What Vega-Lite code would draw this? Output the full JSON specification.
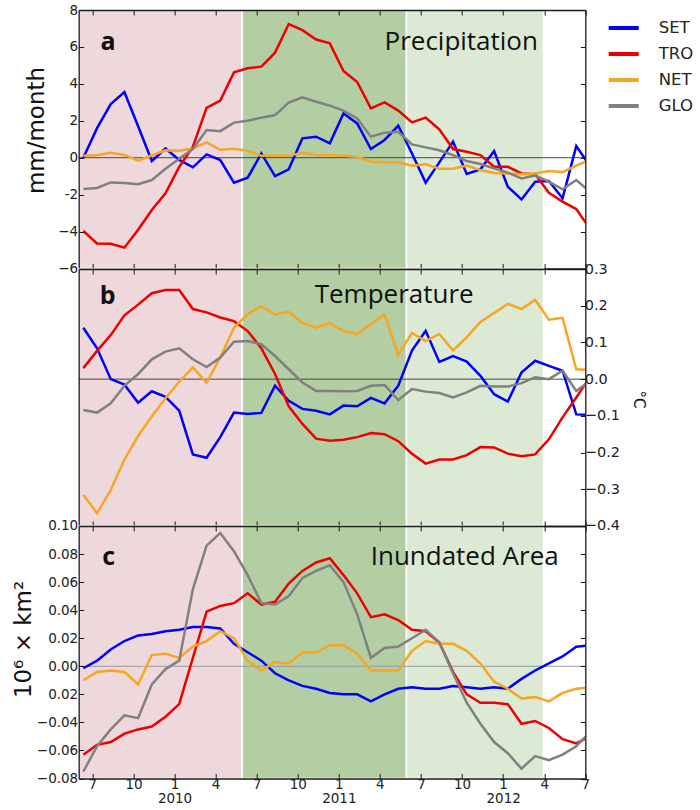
{
  "$schema": "https://vega.github.io/schema/vega-lite/v6.json",
  "autosize": {"type": "none"},
  "padding": {"left": 78.7, "top": 10, "right": 621.3, "bottom": 800},
  "bounds": "flush",
  "spacing": 0,
  "config": {
    "view": {"stroke": null},
    "axis": {"grid": false, "domain": true, "domainColor": "#1a1a1a", "domainWidth": 1.3, "tickSize": -5, "tickColor": "#1a1a1a", "tickWidth": 1,
      "labelFont": "DejaVu Sans", "labelFontSize": 13.5, "labelColor": "#222",
      "titleFont": "DejaVu Sans", "titleFontWeight": "normal", "titleColor": "#111"}
  },
  "datasets": {
    "bands": [
      {"start": -0.34, "end": 11.6, "phase": "p1"},
      {"start": 11.6, "end": 23.6, "phase": "p2"},
      {"start": 23.6, "end": 33.6, "phase": "p3"}
    ],
    "prec": [
      {"k":0,"SET":0,"TRO":-3.97,"NET":0.1,"GLO":-1.7},
      {"k":1,"SET":1.6,"TRO":-4.64,"NET":0.13,"GLO":-1.64},
      {"k":2,"SET":2.9,"TRO":-4.66,"NET":0.27,"GLO":-1.34},
      {"k":3,"SET":3.55,"TRO":-4.87,"NET":0.15,"GLO":-1.37},
      {"k":4,"SET":1.7,"TRO":-3.9,"NET":-0.16,"GLO":-1.44},
      {"k":5,"SET":-0.18,"TRO":-2.83,"NET":0.12,"GLO":-1.21},
      {"k":6,"SET":0.5,"TRO":-1.93,"NET":0.4,"GLO":-0.6},
      {"k":7,"SET":-0.12,"TRO":-0.5,"NET":0.38,"GLO":-0.05},
      {"k":8,"SET":-0.52,"TRO":0.6,"NET":0.5,"GLO":0.47},
      {"k":9,"SET":0.18,"TRO":2.7,"NET":0.83,"GLO":1.5},
      {"k":10,"SET":-0.13,"TRO":3.09,"NET":0.43,"GLO":1.44},
      {"k":11,"SET":-1.35,"TRO":4.62,"NET":0.49,"GLO":1.9},
      {"k":12,"SET":-1.08,"TRO":4.84,"NET":0.38,"GLO":2.0},
      {"k":13,"SET":0.23,"TRO":4.93,"NET":0.1,"GLO":2.17},
      {"k":14,"SET":-1.0,"TRO":5.69,"NET":0.1,"GLO":2.31},
      {"k":15,"SET":-0.63,"TRO":7.24,"NET":0.1,"GLO":2.98},
      {"k":16,"SET":1.05,"TRO":6.91,"NET":0.27,"GLO":3.27},
      {"k":17,"SET":1.14,"TRO":6.4,"NET":0.15,"GLO":3.03},
      {"k":18,"SET":0.78,"TRO":6.19,"NET":0.13,"GLO":2.82},
      {"k":19,"SET":2.4,"TRO":4.7,"NET":0.1,"GLO":2.55},
      {"k":20,"SET":1.86,"TRO":4.1,"NET":0.05,"GLO":2.13},
      {"k":21,"SET":0.47,"TRO":2.67,"NET":-0.2,"GLO":1.14},
      {"k":22,"SET":0.96,"TRO":3.0,"NET":-0.25,"GLO":1.35},
      {"k":23,"SET":1.73,"TRO":2.55,"NET":-0.25,"GLO":1.4},
      {"k":24,"SET":0.23,"TRO":1.91,"NET":-0.43,"GLO":0.72},
      {"k":25,"SET":-1.35,"TRO":2.17,"NET":-0.35,"GLO":0.56},
      {"k":26,"SET":-0.25,"TRO":1.53,"NET":-0.6,"GLO":0.4},
      {"k":27,"SET":0.87,"TRO":0.47,"NET":-0.6,"GLO":0.14},
      {"k":28,"SET":-0.88,"TRO":0.32,"NET":-0.43,"GLO":-0.18},
      {"k":29,"SET":-0.63,"TRO":0.14,"NET":-0.67,"GLO":-0.34},
      {"k":30,"SET":0.36,"TRO":-0.49,"NET":-0.83,"GLO":-0.58},
      {"k":31,"SET":-1.57,"TRO":-0.49,"NET":-0.85,"GLO":-0.81},
      {"k":32,"SET":-2.26,"TRO":-0.85,"NET":-0.9,"GLO":-1.12},
      {"k":33,"SET":-1.3,"TRO":-0.9,"NET":-0.85,"GLO":-0.97},
      {"k":34,"SET":-1.26,"TRO":-1.9,"NET":-0.72,"GLO":-1.3},
      {"k":35,"SET":-2.2,"TRO":-2.38,"NET":-0.78,"GLO":-1.71},
      {"k":36,"SET":0.63,"TRO":-2.78,"NET":-0.43,"GLO":-1.21},
      {"k":37,"SET":-0.45,"TRO":-3.85,"NET":-0.1,"GLO":-1.85}
    ],
    "temp": [
      {"k":0,"SET":0.14,"TRO":0.03,"NET":-0.315,"GLO":-0.084},
      {"k":1,"SET":0.084,"TRO":0.077,"NET":-0.365,"GLO":-0.091},
      {"k":2,"SET":0.0,"TRO":0.12,"NET":-0.302,"GLO":-0.066},
      {"k":3,"SET":-0.015,"TRO":0.174,"NET":-0.219,"GLO":-0.018},
      {"k":4,"SET":-0.064,"TRO":0.203,"NET":-0.155,"GLO":0.014},
      {"k":5,"SET":-0.033,"TRO":0.234,"NET":-0.102,"GLO":0.054},
      {"k":6,"SET":-0.048,"TRO":0.243,"NET":-0.052,"GLO":0.075},
      {"k":7,"SET":-0.086,"TRO":0.243,"NET":-0.007,"GLO":0.084},
      {"k":8,"SET":-0.205,"TRO":0.191,"NET":0.032,"GLO":0.054},
      {"k":9,"SET":-0.214,"TRO":0.182,"NET":-0.01,"GLO":0.033},
      {"k":10,"SET":-0.158,"TRO":0.168,"NET":0.059,"GLO":0.059},
      {"k":11,"SET":-0.091,"TRO":0.158,"NET":0.14,"GLO":0.102},
      {"k":12,"SET":-0.095,"TRO":0.131,"NET":0.177,"GLO":0.104},
      {"k":13,"SET":-0.092,"TRO":0.084,"NET":0.199,"GLO":0.095},
      {"k":14,"SET":-0.018,"TRO":0.014,"NET":0.176,"GLO":0.063},
      {"k":15,"SET":-0.059,"TRO":-0.074,"NET":0.183,"GLO":0.027},
      {"k":16,"SET":-0.081,"TRO":-0.122,"NET":0.153,"GLO":-0.009},
      {"k":17,"SET":-0.086,"TRO":-0.162,"NET":0.14,"GLO":-0.032},
      {"k":18,"SET":-0.096,"TRO":-0.168,"NET":0.153,"GLO":-0.032},
      {"k":19,"SET":-0.072,"TRO":-0.165,"NET":0.131,"GLO":-0.033},
      {"k":20,"SET":-0.074,"TRO":-0.158,"NET":0.123,"GLO":-0.032},
      {"k":21,"SET":-0.051,"TRO":-0.147,"NET":0.15,"GLO":-0.018},
      {"k":22,"SET":-0.066,"TRO":-0.15,"NET":0.176,"GLO":-0.016},
      {"k":23,"SET":-0.018,"TRO":-0.169,"NET":0.066,"GLO":-0.057},
      {"k":24,"SET":0.078,"TRO":-0.203,"NET":0.126,"GLO":-0.027},
      {"k":25,"SET":0.132,"TRO":-0.23,"NET":0.104,"GLO":-0.034},
      {"k":26,"SET":0.047,"TRO":-0.219,"NET":0.123,"GLO":-0.038},
      {"k":27,"SET":0.063,"TRO":-0.219,"NET":0.078,"GLO":-0.05},
      {"k":28,"SET":0.048,"TRO":-0.207,"NET":0.114,"GLO":-0.036},
      {"k":29,"SET":0.009,"TRO":-0.185,"NET":0.156,"GLO":-0.018},
      {"k":30,"SET":-0.041,"TRO":-0.186,"NET":0.18,"GLO":-0.02},
      {"k":31,"SET":-0.061,"TRO":-0.203,"NET":0.205,"GLO":-0.02},
      {"k":32,"SET":0.018,"TRO":-0.21,"NET":0.191,"GLO":-0.011},
      {"k":33,"SET":0.05,"TRO":-0.205,"NET":0.216,"GLO":0.005},
      {"k":34,"SET":0.036,"TRO":-0.164,"NET":0.162,"GLO":0.0},
      {"k":35,"SET":0.023,"TRO":-0.104,"NET":0.167,"GLO":0.023},
      {"k":36,"SET":-0.096,"TRO":-0.05,"NET":0.027,"GLO":-0.032},
      {"k":37,"SET":-0.097,"TRO":0.005,"NET":0.025,"GLO":-0.005}
    ],
    "inun": [
      {"k":0,"SET":-0.0014,"TRO":-0.063,"NET":-0.01,"GLO":-0.075},
      {"k":1,"SET":0.004,"TRO":-0.056,"NET":-0.004,"GLO":-0.057},
      {"k":2,"SET":0.012,"TRO":-0.054,"NET":-0.003,"GLO":-0.045},
      {"k":3,"SET":0.018,"TRO":-0.048,"NET":-0.004,"GLO":-0.035},
      {"k":4,"SET":0.022,"TRO":-0.045,"NET":-0.013,"GLO":-0.037},
      {"k":5,"SET":0.023,"TRO":-0.043,"NET":0.008,"GLO":-0.013},
      {"k":6,"SET":0.025,"TRO":-0.036,"NET":0.009,"GLO":-0.002},
      {"k":7,"SET":0.026,"TRO":-0.027,"NET":0.006,"GLO":0.004},
      {"k":8,"SET":0.028,"TRO":0.006,"NET":0.014,"GLO":0.055},
      {"k":9,"SET":0.028,"TRO":0.039,"NET":0.018,"GLO":0.086},
      {"k":10,"SET":0.027,"TRO":0.043,"NET":0.025,"GLO":0.095},
      {"k":11,"SET":0.016,"TRO":0.045,"NET":0.02,"GLO":0.082},
      {"k":12,"SET":0.01,"TRO":0.052,"NET":0.004,"GLO":0.065},
      {"k":13,"SET":0.004,"TRO":0.044,"NET":-0.003,"GLO":0.045},
      {"k":14,"SET":-0.005,"TRO":0.046,"NET":0.003,"GLO":0.044},
      {"k":15,"SET":-0.01,"TRO":0.059,"NET":0.002,"GLO":0.05},
      {"k":16,"SET":-0.014,"TRO":0.068,"NET":0.01,"GLO":0.063},
      {"k":17,"SET":-0.016,"TRO":0.074,"NET":0.01,"GLO":0.068},
      {"k":18,"SET":-0.019,"TRO":0.077,"NET":0.015,"GLO":0.072},
      {"k":19,"SET":-0.02,"TRO":0.065,"NET":0.015,"GLO":0.06},
      {"k":20,"SET":-0.02,"TRO":0.052,"NET":0.009,"GLO":0.037},
      {"k":21,"SET":-0.025,"TRO":0.035,"NET":-0.003,"GLO":0.006},
      {"k":22,"SET":-0.02,"TRO":0.037,"NET":-0.003,"GLO":0.013},
      {"k":23,"SET":-0.016,"TRO":0.033,"NET":-0.003,"GLO":0.014},
      {"k":24,"SET":-0.015,"TRO":0.026,"NET":0.011,"GLO":0.02},
      {"k":25,"SET":-0.016,"TRO":0.025,"NET":0.018,"GLO":0.026},
      {"k":26,"SET":-0.016,"TRO":0.017,"NET":0.016,"GLO":0.017},
      {"k":27,"SET":-0.014,"TRO":-0.004,"NET":0.016,"GLO":-0.005},
      {"k":28,"SET":-0.015,"TRO":-0.02,"NET":0.011,"GLO":-0.026},
      {"k":29,"SET":-0.016,"TRO":-0.026,"NET":0.002,"GLO":-0.041},
      {"k":30,"SET":-0.015,"TRO":-0.026,"NET":-0.011,"GLO":-0.054},
      {"k":31,"SET":-0.016,"TRO":-0.027,"NET":-0.016,"GLO":-0.062},
      {"k":32,"SET":-0.009,"TRO":-0.041,"NET":-0.023,"GLO":-0.073},
      {"k":33,"SET":-0.003,"TRO":-0.039,"NET":-0.022,"GLO":-0.064},
      {"k":34,"SET":0.002,"TRO":-0.044,"NET":-0.025,"GLO":-0.067},
      {"k":35,"SET":0.007,"TRO":-0.052,"NET":-0.019,"GLO":-0.063},
      {"k":36,"SET":0.014,"TRO":-0.055,"NET":-0.016,"GLO":-0.057},
      {"k":37,"SET":0.015,"TRO":-0.05,"NET":-0.015,"GLO":-0.047}
    ]
  },
  "vconcat": [
    {
      "width": 506.6, "height": 258.5,
      "layer": [
        {"data": {"name": "bands"}, "mark": {"type": "rect", "stroke": "white", "strokeWidth": 1.5},
          "encoding": {
            "x": {"field": "start", "type": "quantitative", "scale": {"domain": [-0.34, 36.66], "nice": false, "zero": false},
              "axis": {"orient": "bottom", "zindex": 2, "values": [0.66,3.66,6.66,9.66,12.66,15.66,18.66,21.66,24.66,27.66,30.66,33.66,36.66], "labels": false, "title": null}},
            "x2": {"field": "end"},
            "fill": {"field": "phase", "type": "nominal", "scale": {"domain": ["p1","p2","p3"], "range": ["#efd8db","#b4cea4","#dce9d4"]}, "legend": null}
          }},
        {"data": {"values": [{}]}, "mark": {"type": "rule", "color": "#444", "strokeWidth": 1},
          "encoding": {"y": {"datum": 0, "type": "quantitative", "scale": {"domain": [-6, 8], "nice": false, "zero": false},
            "axis": {"orient": "left", "zindex": 2, "values": [-6,-4,-2,0,2,4,6,8], "format": "d", "labelExpr": "datum.value == -2 ? '-2' : datum.label", "labelPadding": 6,
              "title": "mm/month", "titleFontSize": 23, "titleX": -35, "titleY": 120, "titleBaseline": "alphabetic", "titleAngle": -90}}}},
        {"data": {"name": "prec"}, "transform": [{"fold": ["SET","TRO","NET","GLO"], "as": ["series","value"]}],
          "mark": {"type": "line", "clip": true, "strokeWidth": 2.5},
          "encoding": {
            "x": {"field": "k", "type": "quantitative", "axis": {"orient": "top", "zindex": 2, "values": [0.66,3.66,6.66,9.66,12.66,15.66,18.66,21.66,24.66,27.66,30.66,33.66,36.66], "labels": false, "title": null}},
            "y": {"field": "value", "type": "quantitative", "axis": {"orient": "right", "zindex": 2, "values": [-6,-4,-2,0,2,4,6,8], "labels": false, "title": null}},
            "stroke": {"field": "series", "type": "nominal", "scale": {"domain": ["SET","TRO","NET","GLO"], "range": ["#0000ff","#ee0000","#f6a623","#808080"]},
              "legend": {"orient": "none", "legendX": 528, "legendY": 1, "title": null, "symbolType": "stroke", "symbolSize": 900, "symbolStrokeWidth": 4,
                "labelFont": "DejaVu Sans", "labelFontSize": 16.5, "labelOffset": 18, "labelColor": "#222", "rowPadding": 0}}
          }},
        {"data": {"values": [{}]}, "mark": {"type": "text", "text": "a", "font": "Open Sans", "fontWeight": "bold", "fontSize": 25, "align": "center", "baseline": "alphabetic", "color": "#111"},
          "encoding": {"x": {"datum": 1.8, "type": "quantitative", "axis": null}, "y": {"datum": 5.83, "type": "quantitative", "axis": null}}},
        {"data": {"values": [{}]}, "mark": {"type": "text", "text": "Precipitation", "font": "Open Sans", "fontSize": 26, "align": "center", "baseline": "alphabetic", "color": "#111"},
          "encoding": {"x": {"datum": 27.6, "type": "quantitative", "axis": null}, "y": {"datum": 5.83, "type": "quantitative", "axis": null}}}
      ],
      "resolve": {"axis": {"x": "independent", "y": "independent"}}
    },
    {
      "width": 506.6, "height": 257,
      "layer": [
        {"data": {"name": "bands"}, "mark": {"type": "rect", "stroke": "white", "strokeWidth": 1.5},
          "encoding": {
            "x": {"field": "start", "type": "quantitative", "scale": {"domain": [-0.34, 36.66], "nice": false, "zero": false},
              "axis": {"orient": "bottom", "zindex": 2, "values": [0.66,3.66,6.66,9.66,12.66,15.66,18.66,21.66,24.66,27.66,30.66,33.66,36.66], "labels": false, "title": null}},
            "x2": {"field": "end"},
            "fill": {"field": "phase", "type": "nominal", "scale": {"domain": ["p1","p2","p3"], "range": ["#efd8db","#b4cea4","#dce9d4"]}, "legend": null}
          }},
        {"data": {"values": [{}]}, "mark": {"type": "rule", "color": "#444", "strokeWidth": 1},
          "encoding": {"y": {"datum": 0, "type": "quantitative", "scale": {"domain": [-0.4, 0.3], "nice": false, "zero": false},
            "axis": {"orient": "left", "zindex": 2, "labels": false, "ticks": false, "title": null}}}},
        {"data": {"name": "temp"}, "transform": [{"fold": ["SET","TRO","NET","GLO"], "as": ["series","value"]}],
          "mark": {"type": "line", "clip": true, "strokeWidth": 2.5},
          "encoding": {
            "x": {"field": "k", "type": "quantitative", "axis": {"orient": "top", "zindex": 2, "values": [0.66,3.66,6.66,9.66,12.66,15.66,18.66,21.66,24.66,27.66,30.66,33.66,36.66], "labels": false, "title": null}},
            "y": {"field": "value", "type": "quantitative", "axis": {"orient": "right", "zindex": 2, "values": [-0.4,-0.3,-0.2,-0.1,0,0.1,0.2,0.3], "format": ".1f", "labelFontSize": 14.5, "labelPadding": 4,
              "title": "°C", "titleFontSize": 15, "titleX": 48, "titleY": 130, "titleBaseline": "alphabetic", "titleAngle": 90}},
            "stroke": {"field": "series", "type": "nominal", "scale": {"domain": ["SET","TRO","NET","GLO"], "range": ["#0000ff","#ee0000","#f6a623","#808080"]},
              "legend": {"orient": "none", "legendX": 528, "legendY": 1, "title": null, "symbolType": "stroke", "symbolSize": 900, "symbolStrokeWidth": 4,
                "labelFont": "DejaVu Sans", "labelFontSize": 16.5, "labelOffset": 18, "labelColor": "#222", "rowPadding": 0}}
          }},
        {"data": {"values": [{}]}, "mark": {"type": "text", "text": "b", "font": "Open Sans", "fontWeight": "bold", "fontSize": 25, "align": "center", "baseline": "alphabetic", "color": "#111"},
          "encoding": {"x": {"datum": 1.77, "type": "quantitative", "axis": null}, "y": {"datum": 0.2035, "type": "quantitative", "axis": null}}},
        {"data": {"values": [{}]}, "mark": {"type": "text", "text": "Temperature", "font": "Open Sans", "fontSize": 26, "align": "center", "baseline": "alphabetic", "color": "#111"},
          "encoding": {"x": {"datum": 22.7, "type": "quantitative", "axis": null}, "y": {"datum": 0.207, "type": "quantitative", "axis": null}}}
      ],
      "resolve": {"axis": {"x": "independent", "y": "independent"}}
    },
    {
      "width": 506.6, "height": 252.5,
      "layer": [
        {"data": {"name": "bands"}, "mark": {"type": "rect", "stroke": "white", "strokeWidth": 1.5},
          "encoding": {
            "x": {"field": "start", "type": "quantitative", "scale": {"domain": [-0.34, 36.66], "nice": false, "zero": false},
              "axis": {"orient": "bottom", "zindex": 2, "values": [0.66,3.66,6.66,9.66,12.66,15.66,18.66,21.66,24.66,27.66,30.66,33.66,36.66],
                "labelExpr": "round((datum.value-0.66)/3)%4 == 2 ? ['1', '' + (2010 + floor(round((datum.value-0.66)/3)/4))] : ['7','10','1','4'][round((datum.value-0.66)/3)%4]",
                "labelFlush": false, "labelOverlap": false, "labelPadding": 4, "labelBaseline": "top", "labelLineHeight": 14, "title": null}},
            "x2": {"field": "end"},
            "fill": {"field": "phase", "type": "nominal", "scale": {"domain": ["p1","p2","p3"], "range": ["#efd8db","#b4cea4","#dce9d4"]}, "legend": null}
          }},
        {"data": {"values": [{}]}, "mark": {"type": "rule", "color": "#999", "strokeWidth": 1},
          "encoding": {"y": {"datum": 0, "type": "quantitative", "scale": {"domain": [-0.08, 0.10], "nice": false, "zero": false},
            "axis": {"orient": "left", "zindex": 2, "values": [-0.08,-0.06,-0.04,-0.02,0,0.02,0.04,0.06,0.08,0.10], "format": ".2f", "labelExpr": "abs(datum.value + 0.02) < 1e-6 ? '0.02' : datum.label", "labelPadding": 6,
              "title": "10⁶ × km²", "titleFontSize": 23, "titleX": -48, "titleY": 113, "titleBaseline": "alphabetic", "titleAngle": -90}}}},
        {"data": {"name": "inun"}, "transform": [{"fold": ["SET","TRO","NET","GLO"], "as": ["series","value"]}],
          "mark": {"type": "line", "clip": true, "strokeWidth": 2.5},
          "encoding": {
            "x": {"field": "k", "type": "quantitative", "axis": {"orient": "top", "zindex": 2, "values": [0.66,3.66,6.66,9.66,12.66,15.66,18.66,21.66,24.66,27.66,30.66,33.66,36.66], "labels": false, "title": null}},
            "y": {"field": "value", "type": "quantitative", "axis": {"orient": "right", "zindex": 2, "values": [-0.08,-0.06,-0.04,-0.02,0,0.02,0.04,0.06,0.08,0.10], "labels": false, "title": null}},
            "stroke": {"field": "series", "type": "nominal", "scale": {"domain": ["SET","TRO","NET","GLO"], "range": ["#0000ff","#ee0000","#f6a623","#808080"]},
              "legend": {"orient": "none", "legendX": 528, "legendY": 1, "title": null, "symbolType": "stroke", "symbolSize": 900, "symbolStrokeWidth": 4,
                "labelFont": "DejaVu Sans", "labelFontSize": 16.5, "labelOffset": 18, "labelColor": "#222", "rowPadding": 0}}
          }},
        {"data": {"values": [{}]}, "mark": {"type": "text", "text": "c", "font": "Open Sans", "fontWeight": "bold", "fontSize": 25, "align": "center", "baseline": "alphabetic", "color": "#111"},
          "encoding": {"x": {"datum": 1.84, "type": "quantitative", "axis": null}, "y": {"datum": 0.0725, "type": "quantitative", "axis": null}}},
        {"data": {"values": [{}]}, "mark": {"type": "text", "text": "Inundated Area", "font": "Open Sans", "fontSize": 26, "align": "center", "baseline": "alphabetic", "color": "#111"},
          "encoding": {"x": {"datum": 27.85, "type": "quantitative", "axis": null}, "y": {"datum": 0.072, "type": "quantitative", "axis": null}}}
      ],
      "resolve": {"axis": {"x": "independent", "y": "independent"}}
    }
  ]
}
